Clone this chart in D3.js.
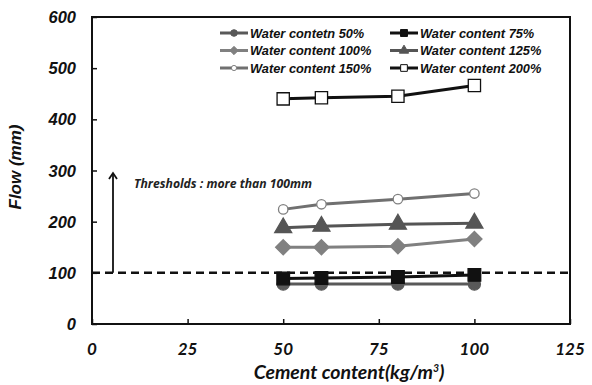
<!DOCTYPE html>
<html><head><meta charset="utf-8">
<script src="https://cdn.jsdelivr.net/npm/d3@7"></script>
<style>body{margin:0;background:#fff}svg{display:block}</style>
</head><body>
<svg id="c" width="592" height="385"></svg>
<script>
const cement = [50, 60, 80, 100];
const w50  = [78, 78, 78, 78];
const w75  = [89, 90, 92, 96];
const w100 = [150, 150, 152, 166];
const w125 = [188, 191, 195, 197];
const w150 = [224, 234, 244, 255];
const w200 = [440, 442, 445, 466];
const xTicks = [0, 25, 50, 75, 100, 125];
const yTicks = [0, 100, 200, 300, 400, 500, 600];
const threshold = 100;

const sqDiamond = {draw(ctx, size){ const r=Math.sqrt(size/2); ctx.moveTo(0,-r); ctx.lineTo(r,0); ctx.lineTo(0,r); ctx.lineTo(-r,0); ctx.closePath(); }};

const series = [
  {name:"Water contetn 50%", v:w50, color:"#595959", sym:d3.symbolCircle, fill:"#595959", stroke:"#595959", size:115},
  {name:"Water content 75%", v:w75, color:"#111", sym:d3.symbolSquare, fill:"#111", stroke:"#111", size:160},
  {name:"Water content 100%", v:w100, color:"#808080", sym:sqDiamond, fill:"#808080", stroke:"#808080", size:115},
  {name:"Water content 125%", v:w125, color:"#555", sym:d3.symbolTriangle, fill:"#555", stroke:"#555", size:125},
  {name:"Water content 150%", v:w150, color:"#707070", sym:d3.symbolCircle, fill:"#fff", stroke:"#808080", size:70},
  {name:"Water content 200%", v:w200, color:"#111", sym:d3.symbolSquare, fill:"#fff", stroke:"#111", size:150}
];

const svg = d3.select("#c");
const L=92, R=570, T=17, B=324;
const x = d3.scaleLinear().domain([0,125]).range([L,R]);
const y = d3.scaleLinear().domain([0,600]).range([B,T]);

// frame
svg.append("rect").attr("x",L).attr("y",T).attr("width",R-L).attr("height",B-T)
  .attr("fill","none").attr("stroke","#111").attr("stroke-width",2);

// y axis ticks inward
const ya = svg.append("g").attr("transform",`translate(${L},0)`)
  .call(d3.axisRight(y).tickValues(yTicks).tickSize(5).tickFormat(""));
ya.select(".domain").remove();
ya.selectAll("line").attr("stroke","#111").attr("stroke-width",1.5);
svg.append("g").selectAll("text").data(yTicks).join("text")
  .attr("x",76).attr("y",d=>y(d)+6).attr("text-anchor","end")
  .attr("font-family","Liberation Sans, Arial").attr("font-weight","bold").attr("font-style","italic")
  .attr("font-size",16.5).attr("fill","#111").text(d=>d);

// x axis ticks inward
const xa = svg.append("g").attr("transform",`translate(0,${B})`)
  .call(d3.axisTop(x).tickValues(xTicks).tickSize(5).tickFormat(""));
xa.select(".domain").remove();
xa.selectAll("line").attr("stroke","#111").attr("stroke-width",1.5);
svg.append("g").selectAll("text").data(xTicks).join("text")
  .attr("x",d=>x(d)).attr("y",355).attr("text-anchor","middle")
  .attr("font-family","Lato, sans-serif").attr("font-style","italic").attr("font-weight","bold")
  .attr("font-size",17).attr("fill","#111").text(d=>d);

// axis titles
svg.append("text").attr("x",349).attr("y",379).attr("text-anchor","middle")
  .attr("font-family","Lato, sans-serif").attr("font-style","italic").attr("font-weight","bold")
  .attr("font-size",19.5).attr("fill","#111")
  .html('Cement content(kg/m<tspan font-size="10.5" dy="-7">3</tspan><tspan dy="7">)</tspan>');
svg.append("text").attr("transform","translate(21,167) rotate(-90)").attr("text-anchor","middle")
  .attr("font-family","Liberation Sans, Arial").attr("font-weight","bold").attr("font-style","italic")
  .attr("font-size",17).attr("fill","#111").text("Flow (mm)");

// threshold dashed line
svg.append("line").attr("x1",L).attr("x2",R).attr("y1",y(threshold)).attr("y2",y(threshold))
  .attr("stroke","#111").attr("stroke-width",2.5).attr("stroke-dasharray","8,5");
// arrow
const ax = 113, ay0 = y(threshold), ay1 = y(295);
svg.append("line").attr("x1",ax).attr("x2",ax).attr("y1",ay0).attr("y2",ay1)
  .attr("stroke","#111").attr("stroke-width",1.8);
svg.append("path").attr("d",`M${ax-4},${ay1+6} L${ax},${ay1} L${ax+4},${ay1+6}`)
  .attr("fill","none").attr("stroke","#111").attr("stroke-width",1.8);
svg.append("text").attr("x",134).attr("y",188)
  .attr("font-family","Open Sans, sans-serif").attr("font-style","italic").attr("font-weight","bold")
  .attr("font-size",12.2).attr("fill","#222").text("Thresholds : more than 100mm");

// series
const line = d3.line().x((d,i)=>x(cement[i])).y(d=>y(d));
series.forEach(s=>{
  svg.append("path").attr("d",line(s.v)).attr("fill","none").attr("stroke",s.color).attr("stroke-width",3);
  svg.append("g").selectAll("path").data(s.v).join("path")
    .attr("transform",(d,i)=>`translate(${x(cement[i])},${y(d)})`)
    .attr("d",d3.symbol().type(s.sym).size(s.size))
    .attr("fill",s.fill).attr("stroke",s.stroke).attr("stroke-width",1.3);
});

// legend
const lg = svg.append("g");
series.forEach((s,i)=>{
  const col=i%2, row=Math.floor(i/2);
  const lx = col===0?220:390, ly = 33+row*17.5;
  lg.append("line").attr("x1",lx).attr("x2",lx+28).attr("y1",ly).attr("y2",ly)
    .attr("stroke",s.color).attr("stroke-width",3);
  lg.append("path").attr("transform",`translate(${lx+14},${ly})`)
    .attr("d",d3.symbol().type(s.sym).size(s.size*0.3))
    .attr("fill",s.fill).attr("stroke",s.stroke).attr("stroke-width",1);
  lg.append("text").attr("x",lx+30).attr("y",ly+4.5)
    .attr("font-family","Liberation Sans, Arial").attr("font-weight","bold").attr("font-style","italic")
    .attr("font-size",12.8).attr("fill","#111").text(s.name);
});
</script>
</body></html>
